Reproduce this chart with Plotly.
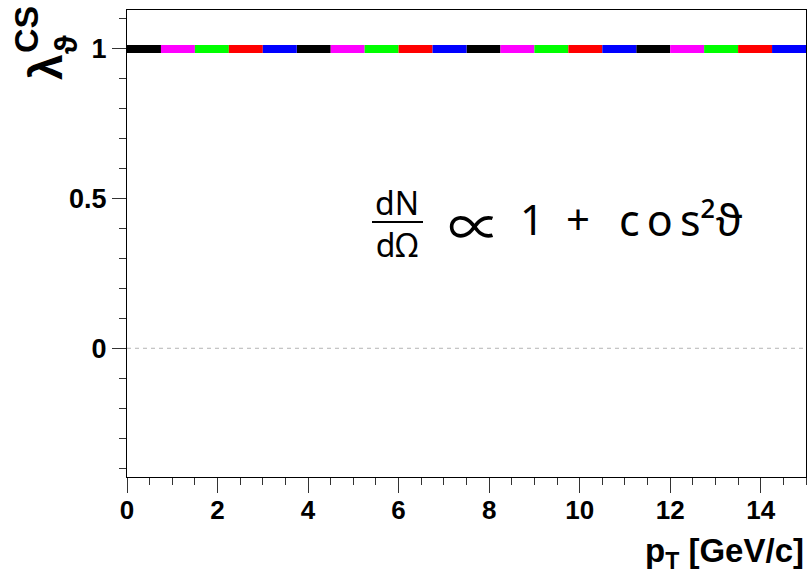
import plotly.graph_objects as go

# ---- data ----
pt_edges = [0, 0.75, 1.5, 2.25, 3, 3.75, 4.5, 5.25, 6, 6.75, 7.5,
            8.25, 9, 9.75, 10.5, 11.25, 12, 12.75, 13.5, 14.25, 15]
lambda_theta = 1.0
seg_colors = ["#000000", "#ff00ff", "#00ff00", "#ff0000", "#0000ff"]
zero_line_x = [0, 15]
zero_line_y = [0, 0]
x_range = [0, 15]
y_range = [-0.43, 1.13]
x_ticks = [0, 2, 4, 6, 8, 10, 12, 14]
y_ticks = [0, 0.5, 1]
y_ticktext = ["0", "0.5", "1"]

W, H = 809, 579
ML, MR, MT, MB = 127, 3, 10, 102
PW, PH = W - ML - MR, H - MT - MB


def px(x):
    return (x - ML) / PW


def py(y):
    return (H - MB - y) / PH


fig = go.Figure()

# zero reference line
fig.add_trace(go.Scatter(x=zero_line_x, y=zero_line_y, mode="lines",
                         line=dict(color="#b4b4b4", width=1, dash="4px,4px"),
                         hoverinfo="skip", showlegend=False))

# coloured dashed line at lambda = 1
for ci, col in enumerate(seg_colors):
    xs, ys = [], []
    for i in range(ci, len(pt_edges) - 1, len(seg_colors)):
        xs += [pt_edges[i], pt_edges[i + 1], None]
        ys += [lambda_theta, lambda_theta, None]
    fig.add_trace(go.Scatter(x=xs, y=ys, mode="lines",
                             line=dict(color=col, width=8),
                             hoverinfo="skip", showlegend=False))

bold = dict(family="Liberation Sans, Arial, sans-serif", color="black", weight="bold")
ff = dict(family="Noto Sans, DejaVu Sans, sans-serif", color="black")
fc = dict(family="Noto Sans CJK JP, DejaVu Sans, sans-serif", color="black")

annotations = [
    # y-axis title pieces
    dict(text="λ", x=px(46), y=py(67), textangle=-90, font=dict(bold, size=46)),
    dict(text="ϑ", x=px(66), y=py(45), textangle=-90, font=dict(bold, size=32)),
    dict(text="CS", x=px(26), y=py(30), textangle=-90, font=dict(bold, size=34)),
    # x-axis title
    dict(text="p<sub>T</sub> [GeV/c]", x=px(806), y=py(553), xanchor="right",
         font=dict(bold, size=33)),
    # formula
    dict(text="dN<br>dΩ", x=px(397), y=py(223), font=dict(ff, size=32)),
    dict(text="∝", x=px(474), y=py(224), font=dict(fc, size=53)),
    dict(text="1", x=px(532), y=py(218), font=dict(ff, size=42)),
    dict(text="+", x=px(578), y=py(218), font=dict(ff, size=42)),
    dict(text="c\u2006o\u2006s²ϑ", x=px(617), y=py(219), xanchor="left",
         font=dict(ff, size=43)),
]
for a in annotations:
    a.setdefault("xanchor", "center")
    a.setdefault("yanchor", "middle")
    a.update(xref="paper", yref="paper", showarrow=False)

fig.update_layout(
    width=W, height=H,
    margin=dict(l=ML, r=MR, t=MT, b=MB, pad=0),
    paper_bgcolor="white", plot_bgcolor="white",
    showlegend=False,
    annotations=annotations,
    shapes=[dict(type="line", xref="paper", yref="paper",
                 x0=px(372), x1=px(423), y0=py(222), y1=py(222),
                 line=dict(color="black", width=2))],
    xaxis=dict(range=x_range, showgrid=False, zeroline=False,
               showline=True, linecolor="black", linewidth=1, mirror=True,
               ticks="outside", ticklen=15, tickwidth=1, tickcolor="#333",
               tickvals=x_ticks, ticktext=[str(v) for v in x_ticks],
               tickfont=dict(bold, size=26), ticklabelstandoff=-5,
               minor=dict(dtick=0.5, tick0=0, ticks="outside", ticklen=7,
                          tickwidth=1, tickcolor="#333", showgrid=False)),
    yaxis=dict(range=y_range, showgrid=False, zeroline=False,
               showline=True, linecolor="black", linewidth=1, mirror=True,
               ticks="outside", ticklen=14, tickwidth=1, tickcolor="#333",
               tickvals=y_ticks, ticktext=y_ticktext,
               tickfont=dict(bold, size=27),
               minor=dict(dtick=0.1, tick0=0, ticks="outside", ticklen=7,
                          tickwidth=1, tickcolor="#333", showgrid=False)),
)

fig.write_html("out.html")
